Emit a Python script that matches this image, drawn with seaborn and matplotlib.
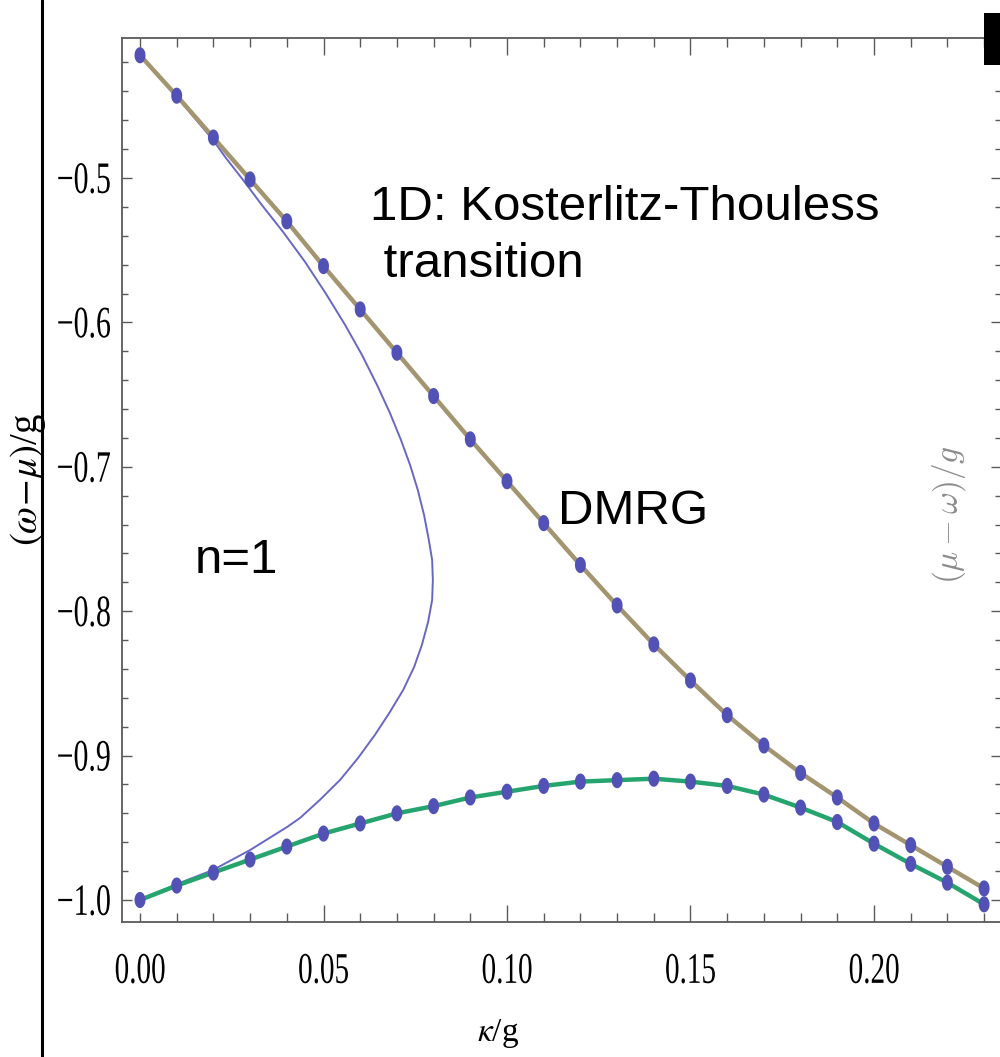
import numpy as np
import pandas as pd
import matplotlib
matplotlib.use("Agg")
import matplotlib.pyplot as plt
import seaborn as sns
from matplotlib.lines import Line2D
from matplotlib.patches import Rectangle
from matplotlib.patheffects import AbstractPathEffect
from matplotlib.transforms import Affine2D
from matplotlib.ticker import MultipleLocator, FixedLocator, FuncFormatter

# DMRG boundaries of the n=1 Mott lobe (hopping kappa/g)
kappa = [0.00, 0.01, 0.02, 0.03, 0.04, 0.05, 0.06, 0.07, 0.08, 0.09, 0.10, 0.11,
         0.12, 0.13, 0.14, 0.15, 0.16, 0.17, 0.18, 0.19, 0.20, 0.21, 0.22, 0.23]
upper_edge = [-0.415, -0.443, -0.472, -0.501, -0.530, -0.561, -0.591, -0.621,
              -0.651, -0.681, -0.710, -0.739, -0.768, -0.796, -0.823, -0.848,
              -0.872, -0.893, -0.912, -0.929, -0.947, -0.962, -0.977, -0.992]
lower_edge = [-1.000, -0.990, -0.981, -0.972, -0.963, -0.954, -0.947, -0.940,
              -0.935, -0.929, -0.925, -0.921, -0.918, -0.917, -0.916, -0.918,
              -0.921, -0.927, -0.936, -0.946, -0.961, -0.975, -0.988, -1.003]

# mean-field lobe boundary, traced from the bottom tip to the top tip
lobe_kappa = [0.0000, 0.0101, 0.0199, 0.0300, 0.0401, 0.0436, 0.0490, 0.0545,
              0.0594, 0.0640, 0.0681, 0.0717, 0.0747, 0.0768, 0.0785, 0.0796,
              0.0798, 0.0796, 0.0787, 0.0774, 0.0757, 0.0736, 0.0711, 0.0681,
              0.0646, 0.0605, 0.0559, 0.0507, 0.0450, 0.0390, 0.0332, 0.0281,
              0.0234, 0.0199, 0.0101, 0.0000]
lobe_y = [-1.0000, -0.9889, -0.9792, -0.9654, -0.9494, -0.9432, -0.9307,
          -0.9169, -0.9017, -0.8857, -0.8698, -0.8546, -0.8386, -0.8234,
          -0.8075, -0.7922, -0.7784, -0.7645, -0.7507, -0.7334, -0.7161,
          -0.6988, -0.6814, -0.6627, -0.6434, -0.6226, -0.6018, -0.5803,
          -0.5582, -0.5374, -0.5187, -0.5014, -0.4861, -0.4737, -0.4439,
          -0.4148]

x_major = [0.00, 0.05, 0.10, 0.15, 0.20]


class TallGlyphs(AbstractPathEffect):
    """Stretch glyph outlines vertically about their own centre."""

    def __init__(self, factor):
        super().__init__()
        self.factor = factor

    def draw_path(self, renderer, gc, tpath, affine, rgbFace=None):
        ext = tpath.get_extents(affine)
        cy = 0.5 * (ext.y0 + ext.y1)
        stretch = Affine2D().translate(0, -cy).scale(1, self.factor).translate(0, cy)
        renderer.draw_path(gc, tpath, affine + stretch, rgbFace)


sns.set_theme(style="ticks")
plt.rcParams["font.family"] = ["Liberation Serif", "DejaVu Serif"]
plt.rcParams["mathtext.fontset"] = "stix"

W, H = 1000, 1057
fig = plt.figure(figsize=(W / 100, H / 100), dpi=100)
ax = fig.add_axes([122 / W, 1 - 922 / H, 879 / W, (922 - 38) / H])

dmrg = pd.DataFrame({"kappa": kappa + kappa,
                     "edge": upper_edge + lower_edge,
                     "branch": ["upper"] * len(kappa) + ["lower"] * len(kappa)})
lobe = pd.DataFrame({"kappa": lobe_kappa, "edge": lobe_y})

sns.lineplot(data=lobe, x="kappa", y="edge", sort=False, estimator=None,
             color="#6767c6", lw=1.4, ax=ax, zorder=2)
sns.lineplot(data=dmrg[dmrg.branch == "upper"], x="kappa", y="edge",
             sort=False, estimator=None, color="#a39570", lw=3.2, ax=ax, zorder=3)
sns.lineplot(data=dmrg[dmrg.branch == "lower"], x="kappa", y="edge",
             sort=False, estimator=None, color="#26a46e", lw=3.2, ax=ax, zorder=3)

t = np.linspace(0, 2 * np.pi, 48)
ellipse = list(zip(0.68 * np.cos(t), np.sin(t)))
sns.scatterplot(data=dmrg, x="kappa", y="edge", marker=ellipse, s=135,
                color="#5252b6", edgecolor="none", linewidth=0, ax=ax, zorder=5,
                legend=False)

ax.set_xlim(-18 / 3670, (1001 - 140) / 3670)
ax.set_ylim(-1.0 - 22 / 1444, -0.5 + 140 / 1444)
ax.set_xlabel("")
ax.set_ylabel("")

ax.xaxis.set_major_locator(FixedLocator(x_major))
ax.xaxis.set_major_formatter(FuncFormatter(lambda v, p: f"{v:.2f}"))
ax.xaxis.set_minor_locator(MultipleLocator(0.01))
ax.yaxis.set_major_locator(MultipleLocator(0.1))
ax.yaxis.set_major_formatter(
    FuncFormatter(lambda v, p: f"{v:.1f}".replace("-", "\u2212")))
ax.yaxis.set_minor_locator(MultipleLocator(0.02))

ax.tick_params(which="both", direction="in", top=True, right=True,
               color="#5a5a5a", labelcolor="black", width=1.0)
ax.tick_params(axis="x", which="major", length=12, labelsize=21, pad=26)
ax.tick_params(axis="x", which="minor", length=6.5)
ax.tick_params(axis="y", which="major", length=7, labelsize=21.5, pad=8)
ax.tick_params(axis="y", which="minor", length=4.3)
for sp in ax.spines.values():
    sp.set_color("#5a5a5a")
    sp.set_linewidth(1.3)

# the tick at the origin is drawn short
first = ax.xaxis.get_major_ticks()[0]
first.tick1line.set_markersize(6.5)
first.tick2line.set_markersize(6.5)

for lab in ax.get_xticklabels() + ax.get_yticklabels():
    lab.set_path_effects([TallGlyphs(1.5)])

fig.text(28 / W, 1 - 480 / H, r"$(\omega\!-\!\mu)$/g", rotation=90,
         size=28, ha="center", va="center", color="black")
fig.text(498 / W, 1 - 1034 / H, r"$\kappa$/g", size=24, ha="center",
         va="center", color="black")
fig.text(949 / W, 1 - 515 / H, r"$(\mu-\omega)/g$", rotation=90, size=24,
         color="#8c8c8c", ha="center", va="center", math_fontfamily="cm")

sans = dict(family=["Liberation Sans", "DejaVu Sans"], size=35.5,
            va="baseline", color="black")
fig.text(370 / W, 1 - 220 / H, "1D: Kosterlitz-Thouless", **sans)
fig.text(370 / W, 1 - 277 / H, " transition", **sans)
fig.text(558 / W, 1 - 524 / H, "DMRG", **sans)
fig.text(195 / W, 1 - 573 / H, "n=1", **sans)

fig.add_artist(Line2D([42 / W, 42 / W], [0, 1], transform=fig.transFigure,
                      color="black", lw=2.2))
fig.add_artist(Rectangle((984 / W, 1 - 65 / H), 20 / W, 52 / H,
                         transform=fig.transFigure, color="black", lw=0))

fig.savefig("out.png", dpi=100)
